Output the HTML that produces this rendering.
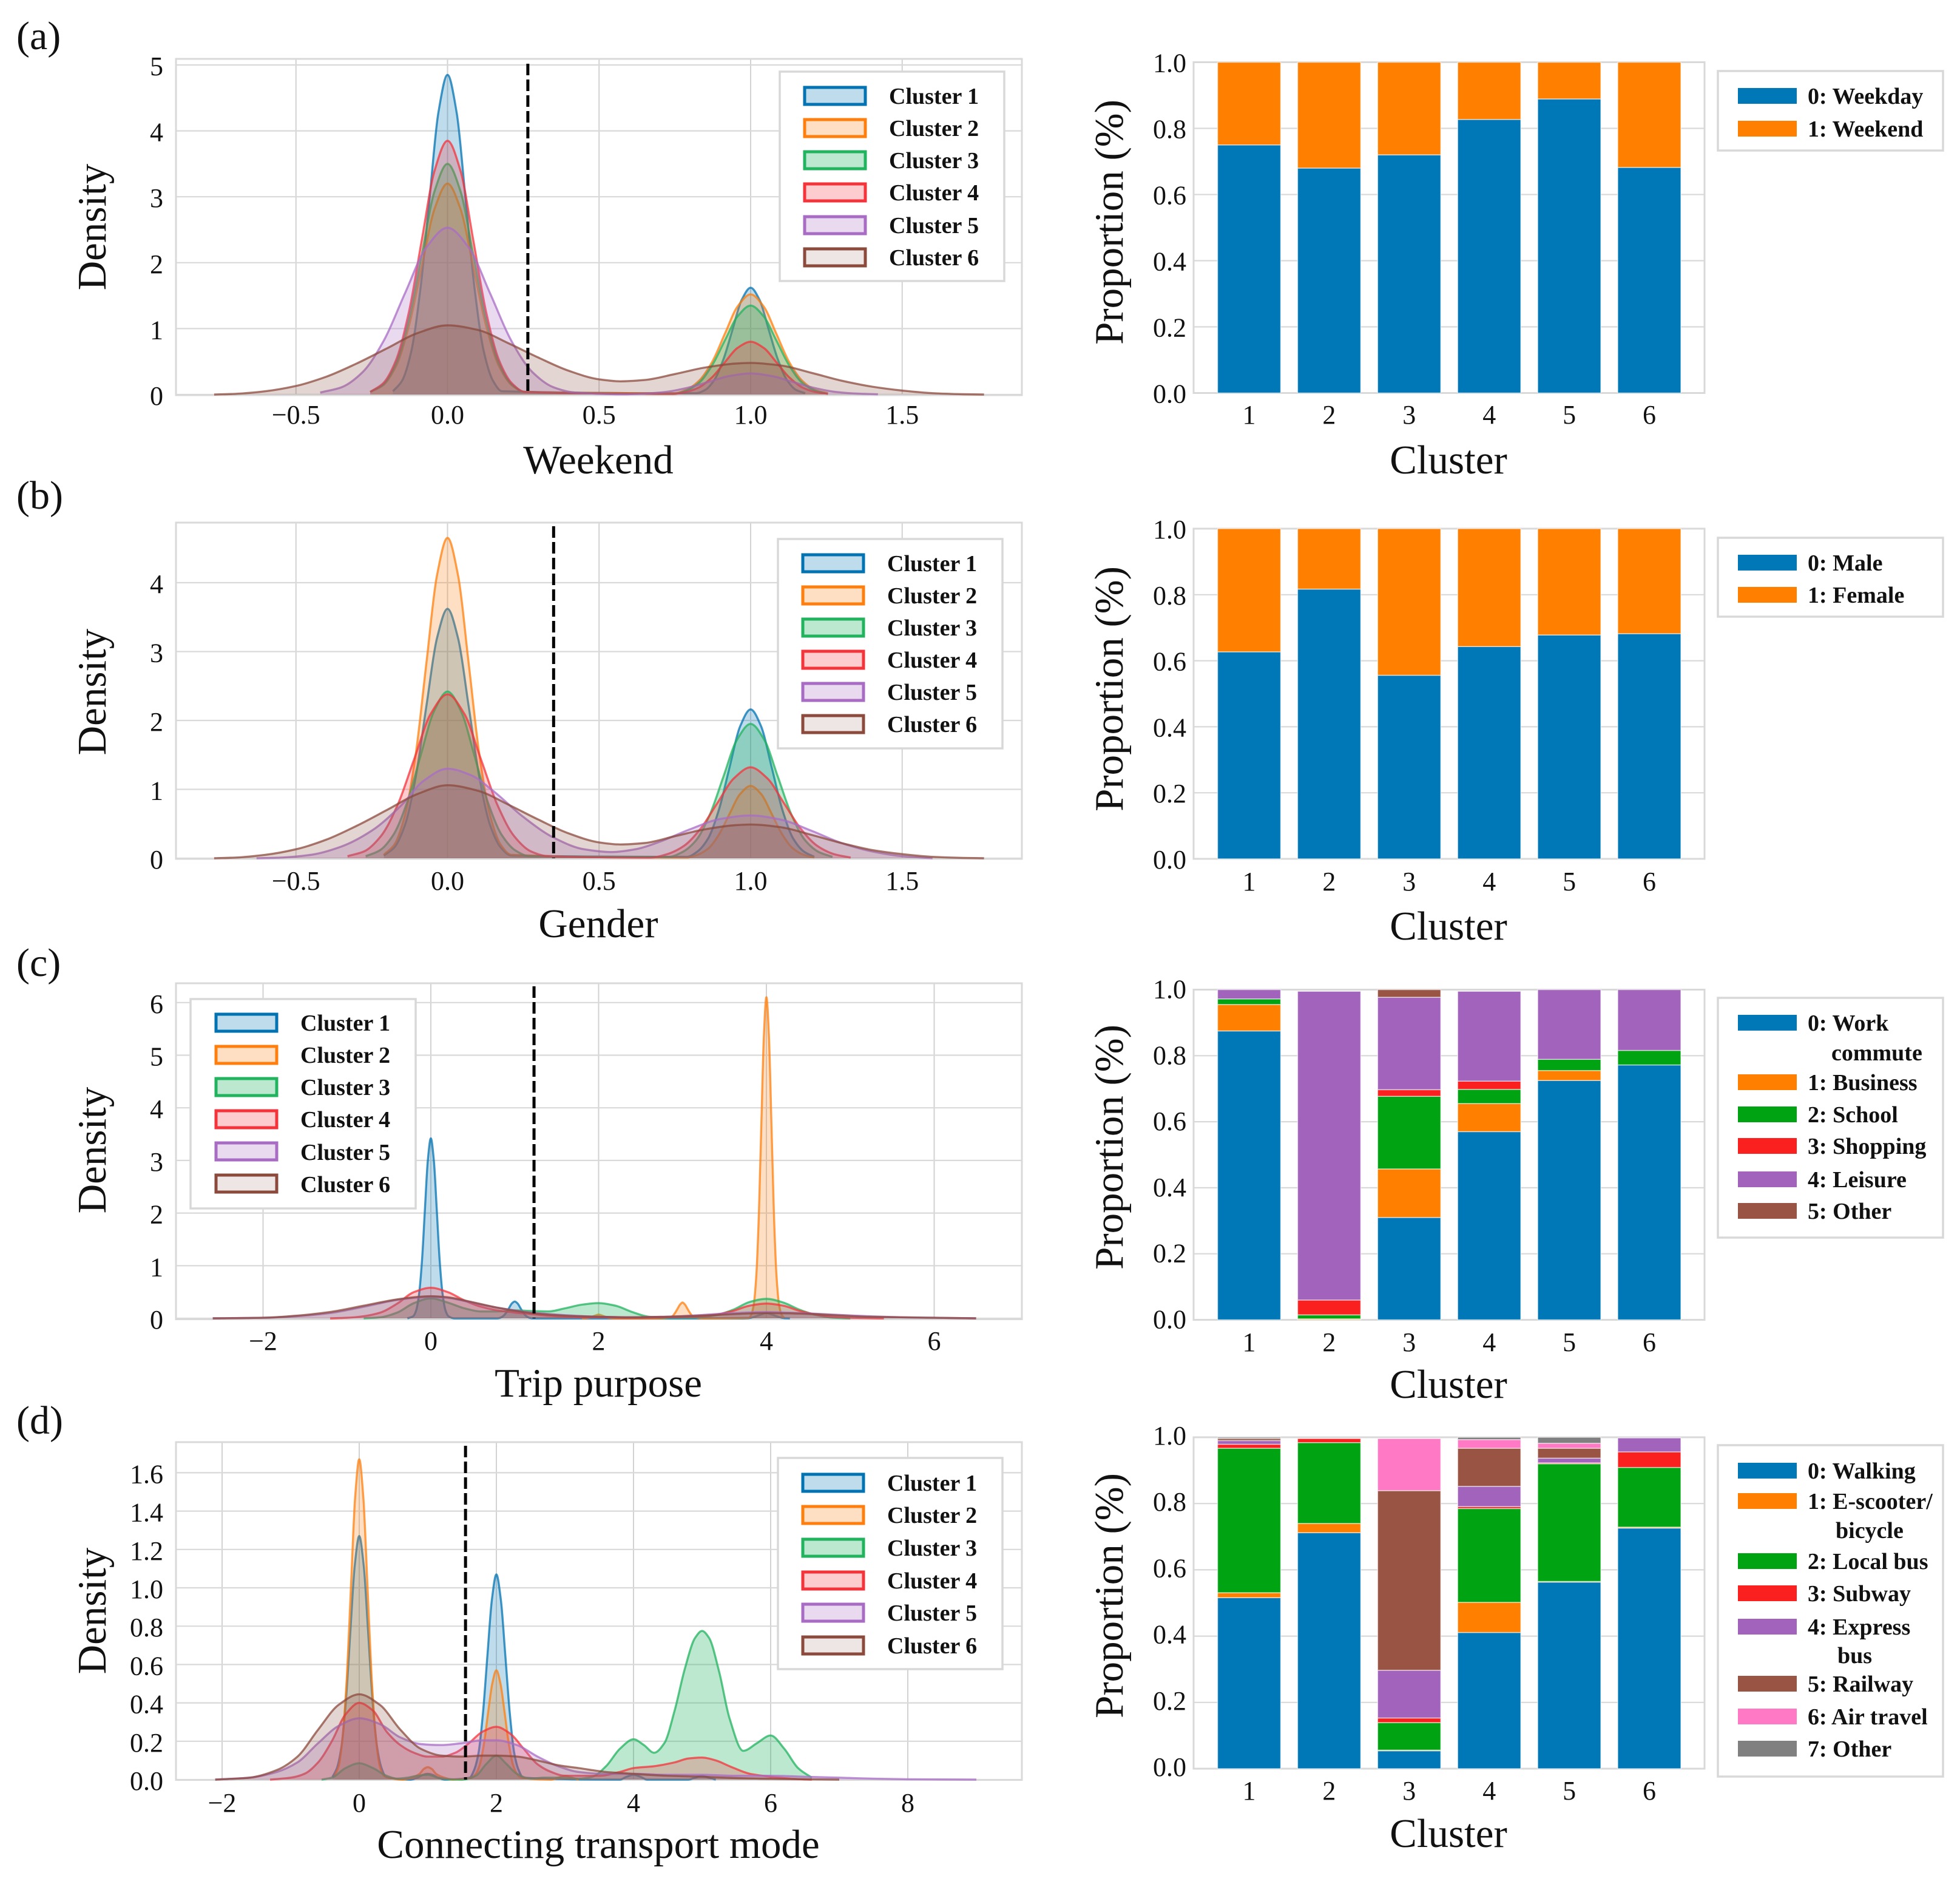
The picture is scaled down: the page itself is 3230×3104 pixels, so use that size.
<!DOCTYPE html>
<html lang="en">
<head>
<meta charset="utf-8">
<title>Cluster density and proportion charts</title>
<style>
html,body{margin:0;padding:0;background:#fff}
svg{display:block}
text{font-family:"Liberation Serif","Times New Roman",serif;fill:#111}
.panel-letter{font-size:66px}
.axis-title{font-size:67px;text-anchor:middle}
.tick{font-size:44px}
.legend-box{fill:#fff;stroke:#d8d8d8;stroke-width:3.5}
.leg{font-size:38px;font-weight:bold}
.c1{fill:#0173b2;fill-opacity:.25;stroke:#0173b2}
.c2{fill:#ff7f0e;fill-opacity:.25;stroke:#ff7f0e}
.c3{fill:#22b35f;fill-opacity:.3;stroke:#22b35f}
.c4{fill:#f5333b;fill-opacity:.25;stroke:#f5333b}
.c5{fill:#a86cc5;fill-opacity:.25;stroke:#a86cc5}
.c6{fill:#8c564b;fill-opacity:.25;stroke:#8c4a3c}
.sw{stroke-width:5}
.sw.c6{fill-opacity:.15}
</style>
</head>
<body>
<svg xmlns="http://www.w3.org/2000/svg" width="3230" height="3104" viewBox="0 0 3230 3104">
<rect width="3230" height="3104" fill="#fff"/>

<text class="panel-letter" x="27" y="81">(a)</text>
<text class="panel-letter" x="27" y="838">(b)</text>
<text class="panel-letter" x="27" y="1608">(c)</text>
<text class="panel-letter" x="27" y="2362">(d)</text>

<g id="kde-a"></g>
<g id="kde-b"></g>
<g id="kde-c"></g>
<g id="kde-d"></g>
<g id="bar-a"></g>
<g id="bar-b"></g>
<g id="bar-c"></g>
<g id="bar-d"></g>

<!-- axis titles -->
<text class="axis-title" x="986" y="780">Weekend</text>
<text class="axis-title" x="986" y="1544">Gender</text>
<text class="axis-title" x="986" y="2301">Trip purpose</text>
<text class="axis-title" x="986" y="3061">Connecting transport mode</text>
<text class="axis-title" x="2387" y="780">Cluster</text>
<text class="axis-title" x="2387" y="1548">Cluster</text>
<text class="axis-title" x="2387" y="2303">Cluster</text>
<text class="axis-title" x="2387" y="3043">Cluster</text>

<text class="axis-title" transform="translate(174 374) rotate(-90)">Density</text>
<text class="axis-title" transform="translate(174 1140) rotate(-90)">Density</text>
<text class="axis-title" transform="translate(174 1895) rotate(-90)">Density</text>
<text class="axis-title" transform="translate(174 2654) rotate(-90)">Density</text>
<text class="axis-title" transform="translate(1850 366) rotate(-90)">Proportion (%)</text>
<text class="axis-title" transform="translate(1850 1135) rotate(-90)">Proportion (%)</text>
<text class="axis-title" transform="translate(1850 1890) rotate(-90)">Proportion (%)</text>
<text class="axis-title" transform="translate(1850 2629) rotate(-90)">Proportion (%)</text>

<!-- density legends -->
<g>
<rect class="legend-box" x="1285" y="118" width="370" height="345"/>
<rect class="c1 sw" x="1326" y="144" width="100" height="28"/><text class="leg" x="1465" y="171">Cluster 1</text>
<rect class="c2 sw" x="1326" y="197" width="100" height="28"/><text class="leg" x="1465" y="224">Cluster 2</text>
<rect class="c3 sw" x="1326" y="250" width="100" height="28"/><text class="leg" x="1465" y="277">Cluster 3</text>
<rect class="c4 sw" x="1326" y="303" width="100" height="28"/><text class="leg" x="1465" y="330">Cluster 4</text>
<rect class="c5 sw" x="1326" y="357" width="100" height="28"/><text class="leg" x="1465" y="384">Cluster 5</text>
<rect class="c6 sw" x="1326" y="410" width="100" height="28"/><text class="leg" x="1465" y="437">Cluster 6</text>
</g>
<g>
<rect class="legend-box" x="1282" y="888" width="370" height="345"/>
<rect class="c1 sw" x="1323" y="914" width="100" height="28"/><text class="leg" x="1462" y="941">Cluster 1</text>
<rect class="c2 sw" x="1323" y="967" width="100" height="28"/><text class="leg" x="1462" y="994">Cluster 2</text>
<rect class="c3 sw" x="1323" y="1020" width="100" height="28"/><text class="leg" x="1462" y="1047">Cluster 3</text>
<rect class="c4 sw" x="1323" y="1073" width="100" height="28"/><text class="leg" x="1462" y="1100">Cluster 4</text>
<rect class="c5 sw" x="1323" y="1126" width="100" height="28"/><text class="leg" x="1462" y="1153">Cluster 5</text>
<rect class="c6 sw" x="1323" y="1179" width="100" height="28"/><text class="leg" x="1462" y="1206">Cluster 6</text>
</g>
<g>
<rect class="legend-box" x="314" y="1646" width="371" height="345"/>
<rect class="c1 sw" x="356" y="1671" width="100" height="28"/><text class="leg" x="495" y="1698">Cluster 1</text>
<rect class="c2 sw" x="356" y="1724" width="100" height="28"/><text class="leg" x="495" y="1751">Cluster 2</text>
<rect class="c3 sw" x="356" y="1777" width="100" height="28"/><text class="leg" x="495" y="1804">Cluster 3</text>
<rect class="c4 sw" x="356" y="1830" width="100" height="28"/><text class="leg" x="495" y="1857">Cluster 4</text>
<rect class="c5 sw" x="356" y="1883" width="100" height="28"/><text class="leg" x="495" y="1911">Cluster 5</text>
<rect class="c6 sw" x="356" y="1936" width="100" height="28"/><text class="leg" x="495" y="1964">Cluster 6</text>
</g>
<g>
<rect class="legend-box" x="1282" y="2402" width="370" height="348"/>
<rect class="c1 sw" x="1323" y="2429" width="100" height="28"/><text class="leg" x="1462" y="2456">Cluster 1</text>
<rect class="c2 sw" x="1323" y="2482" width="100" height="28"/><text class="leg" x="1462" y="2509">Cluster 2</text>
<rect class="c3 sw" x="1323" y="2536" width="100" height="28"/><text class="leg" x="1462" y="2563">Cluster 3</text>
<rect class="c4 sw" x="1323" y="2590" width="100" height="28"/><text class="leg" x="1462" y="2617">Cluster 4</text>
<rect class="c5 sw" x="1323" y="2643" width="100" height="28"/><text class="leg" x="1462" y="2670">Cluster 5</text>
<rect class="c6 sw" x="1323" y="2697" width="100" height="28"/><text class="leg" x="1462" y="2724">Cluster 6</text>
</g>

<!-- proportion legends -->
<g>
<rect class="legend-box" x="2831" y="117" width="371" height="131"/>
<rect x="2864" y="145" width="97" height="26" fill="#0077b6"/><text class="leg" x="2979" y="171">0: Weekday</text>
<rect x="2864" y="199" width="97" height="26" fill="#ff7f00"/><text class="leg" x="2979" y="225">1: Weekend</text>
</g>
<g>
<rect class="legend-box" x="2831" y="886" width="371" height="130"/>
<rect x="2864" y="914" width="97" height="26" fill="#0077b6"/><text class="leg" x="2979" y="940">0: Male</text>
<rect x="2864" y="967" width="97" height="26" fill="#ff7f00"/><text class="leg" x="2979" y="993">1: Female</text>
</g>
<g>
<rect class="legend-box" x="2831" y="1644" width="371" height="395"/>
<rect x="2864" y="1672" width="97" height="26" fill="#0077b6"/><text class="leg" x="2979" y="1698">0: Work</text><text class="leg" x="3018" y="1747">commute</text>
<rect x="2864" y="1770" width="97" height="26" fill="#ff7f00"/><text class="leg" x="2979" y="1796">1: Business</text>
<rect x="2864" y="1823" width="97" height="26" fill="#00a312"/><text class="leg" x="2979" y="1849">2: School</text>
<rect x="2864" y="1875" width="97" height="26" fill="#fb2020"/><text class="leg" x="2979" y="1901">3: Shopping</text>
<rect x="2864" y="1930" width="97" height="26" fill="#a263bd"/><text class="leg" x="2979" y="1956">4: Leisure</text>
<rect x="2864" y="1982" width="97" height="26" fill="#9a5444"/><text class="leg" x="2979" y="2008">5: Other</text>
</g>
<g>
<rect class="legend-box" x="2831" y="2381" width="371" height="546"/>
<rect x="2864" y="2410" width="97" height="26" fill="#0077b6"/><text class="leg" x="2979" y="2436">0: Walking</text>
<rect x="2864" y="2460" width="97" height="26" fill="#ff7f00"/><text class="leg" x="2979" y="2486">1: E-scooter/</text><text class="leg" x="3025" y="2534">bicycle</text>
<rect x="2864" y="2559" width="97" height="26" fill="#00a312"/><text class="leg" x="2979" y="2585">2: Local bus</text>
<rect x="2864" y="2612" width="97" height="26" fill="#fb2020"/><text class="leg" x="2979" y="2638">3: Subway</text>
<rect x="2864" y="2667" width="97" height="26" fill="#a263bd"/><text class="leg" x="2979" y="2693">4: Express</text><text class="leg" x="3028" y="2740">bus</text>
<rect x="2864" y="2761" width="97" height="26" fill="#9a5444"/><text class="leg" x="2979" y="2787">5: Railway</text>
<rect x="2864" y="2815" width="97" height="26" fill="#ff79c4"/><text class="leg" x="2979" y="2841">6: Air travel</text>
<rect x="2864" y="2868" width="97" height="26" fill="#808080"/><text class="leg" x="2979" y="2894">7: Other</text>
</g>
</svg>

<script>
/* ---------- tick labels ---------- */
const unitTicks = [-0.5, 0, 0.5, 1, 1.5];
const unitTickLabels = ['\u22120.5', '0.0', '0.5', '1.0', '1.5'];
const weekendYTicks = [0, 1, 2, 3, 4, 5];
const genderYTicks = [0, 1, 2, 3, 4];
const purposeYTicks = [0, 1, 2, 3, 4, 5, 6];
const purposeXTicks = [-2, 0, 2, 4, 6];
const purposeXLabels = ['\u22122', '0', '2', '4', '6'];
const modeYTicks = [0, 0.2, 0.4, 0.6, 0.8, 1, 1.2, 1.4, 1.6];
const modeYLabels = ['0.0', '0.2', '0.4', '0.6', '0.8', '1.0', '1.2', '1.4', '1.6'];
const modeXTicks = [-2, 0, 2, 4, 6, 8];
const modeXLabels = ['\u22122', '0', '2', '4', '6', '8'];
const shareTicks = [0, 0.2, 0.4, 0.6, 0.8, 1];
const shareLabels = ['0.0', '0.2', '0.4', '0.6', '0.8', '1.0'];
const clusterLabels = ['1', '2', '3', '4', '5', '6'];

/* ---------- thresholds ---------- */
const weekendThreshold = 0.265;
const genderThreshold = 0.35;
const purposeThreshold = 1.23;
const modeThreshold = 1.55;

/* ---------- (a) weekend density ---------- */
const aX1 = [-.18,-.15,-.12,-.09,-.06,-.03,0,.03,.06,.09,.12,.15,.18,.82,.85,.88,.91,.94,.97,1,1.03,1.06,1.09,1.12,1.15,1.18];
const aY1 = [.05,.21,.65,1.58,2.94,4.28,4.85,4.28,2.94,1.58,.65,.21,.05,.02,.07,.22,.53,.98,1.43,1.62,1.43,.98,.53,.22,.07,.02];
const aX2 = [-.255,-.2125,-.17,-.1275,-.085,-.0425,0,.0425,.085,.1275,.17,.2125,.255,.745,.7875,.83,.8725,.915,.9575,1,1.0425,1.085,1.1275,1.17,1.2125,1.255];
const aY2 = [.04,.14,.43,1.04,1.94,2.82,3.2,2.82,1.94,1.04,.43,.14,.04,.02,.07,.21,.49,.92,1.34,1.52,1.34,.92,.49,.21,.07,.02];
const aY3 = [.04,.15,.47,1.14,2.12,3.09,3.5,3.09,2.12,1.14,.47,.15,.04,.01,.06,.18,.44,.82,1.19,1.35,1.19,.82,.44,.18,.06,.01];
const aY4 = [.04,.17,.52,1.25,2.34,3.4,3.85,3.4,2.34,1.25,.52,.17,.04,.01,.04,.11,.26,.49,.71,.8,.71,.49,.26,.11,.04,.01];
const aX5 = [-.42,-.35,-.28,-.21,-.14,-.07,0,.07,.14,.21,.28,.35,.42,.58,.65,.72,.79,.86,.93,1,1.07,1.14,1.21,1.28,1.35,1.42];
const aY5 = [.03,.11,.34,.82,1.54,2.23,2.53,2.23,1.54,.82,.34,.11,.03,.004,.014,.04,.1,.19,.28,.32,.28,.19,.1,.04,.014,.004];
const aX6 = [-.77,-.7,-.6,-.5,-.4,-.3,-.2,-.1,0,.1,.2,.3,.4,.5,.57,.65,.75,.85,.95,1,1.1,1.2,1.3,1.4,1.5,1.6,1.7,1.77];
const aY6 = [0,.01,.05,.13,.27,.47,.7,.93,1.05,.98,.78,.56,.36,.23,.2,.22,.31,.41,.47,.48,.44,.33,.21,.12,.06,.02,.005,0];

/* ---------- (b) gender density ---------- */
const bX1 = [-.21,-.175,-.14,-.105,-.07,-.035,0,.035,.07,.105,.14,.175,.21,.79,.825,.86,.895,.93,.965,1,1.035,1.07,1.105,1.14,1.175,1.21];
const bY1 = [.04,.16,.49,1.18,2.2,3.19,3.62,3.19,2.2,1.18,.49,.16,.04,.02,.1,.29,.7,1.31,1.91,2.16,1.91,1.31,.7,.29,.1,.02];
const bY2 = [.05,.2,.63,1.51,2.82,4.1,4.65,4.1,2.82,1.51,.63,.2,.05,.01,.05,.14,.34,.64,.93,1.05,.93,.64,.34,.14,.05,.01];
const bX3 = [-.27,-.225,-.18,-.135,-.09,-.045,0,.045,.09,.135,.18,.225,.27,.73,.775,.82,.865,.91,.955,1,1.045,1.09,1.135,1.18,1.225,1.27];
const bY3 = [.03,.11,.33,.79,1.47,2.13,2.42,2.13,1.47,.79,.33,.11,.03,.02,.09,.26,.63,1.18,1.72,1.95,1.72,1.18,.63,.26,.09,.02];
const bX4 = [-.33,-.275,-.22,-.165,-.11,-.055,0,.055,.11,.165,.22,.275,.33,.67,.725,.78,.835,.89,.945,1,1.055,1.11,1.165,1.22,1.275,1.33];
const bY4 = [.03,.1,.32,.77,1.44,2.1,2.38,2.1,1.44,.77,.32,.1,.03,.01,.06,.18,.43,.8,1.16,1.32,1.16,.8,.43,.18,.06,.01];
const bX5 = [-.63,-.55,-.45,-.35,-.25,-.15,-.08,0,.08,.15,.25,.35,.45,.54,.62,.7,.8,.9,1,1.1,1.2,1.3,1.4,1.5,1.6];
const bY5 = [0,.01,.05,.17,.4,.78,1.12,1.3,1.2,.98,.6,.3,.13,.09,.13,.24,.42,.57,.62,.56,.4,.22,.1,.03,0];
const bX6 = [-.77,-.7,-.6,-.5,-.4,-.3,-.2,-.1,0,.1,.2,.3,.4,.5,.57,.65,.75,.85,.95,1,1.1,1.2,1.3,1.4,1.5,1.6,1.7,1.77];
const bY6 = [0,.01,.05,.13,.27,.47,.7,.93,1.06,.98,.78,.56,.36,.23,.2,.22,.32,.42,.48,.49,.45,.34,.22,.12,.06,.02,.005,0];

/* ---------- (c) trip purpose density ---------- */
const cX1 = [-.28,-.21,-.175,-.14,-.105,-.07,-.035,0,.035,.07,.105,.14,.175,.21,.28,.72,.79,.825,.86,.895,.93,.965,1,1.035,1.07,1.105,1.14,1.175,1.21,1.28,3.72,3.79,3.86,3.93,4,4.07,4.14,4.21,4.28];
const cY1 = [0,.04,.15,.46,1.11,2.08,3.02,3.42,3.02,2.08,1.11,.46,.15,.04,0,0,0,.01,.04,.1,.19,.28,.32,.28,.19,.1,.04,.01,0,0,0,.004,.03,.07,.1,.07,.03,.004,0];
const cX2 = [1.8,1.88,1.94,2,2.06,2.12,2.2,2.75,2.82,2.88,2.91,2.94,2.97,3,3.03,3.06,3.09,3.12,3.18,3.25,3.79,3.82,3.85,3.88,3.91,3.94,3.97,4,4.03,4.06,4.09,4.12,4.15,4.18,4.21];
const cY2 = [0,.01,.04,.07,.04,.01,0,0,.01,.04,.1,.18,.26,.3,.26,.18,.1,.04,.01,0,.01,.07,.27,.82,1.98,3.7,5.38,6.1,5.38,3.7,1.98,.82,.27,.07,.01];
const cX3 = [-.8,-.6,-.4,-.2,0,.2,.4,.6,.8,1,1.2,1.4,1.6,1.8,2,2.2,2.4,2.6,2.8,3,3.2,3.4,3.6,3.8,4,4.2,4.4,4.6,4.8,5];
const cY3 = [0,.02,.11,.29,.38,.3,.19,.13,.13,.15,.14,.13,.19,.26,.29,.24,.12,.03,.01,.01,.02,.06,.16,.31,.37,.3,.16,.06,.01,0];
const cX4 = [-1.2,-1,-.8,-.6,-.4,-.2,0,.2,.4,.6,.8,1,1.2,1.4,1.6,1.8,2,2.4,2.8,3.2,3.4,3.6,3.8,4,4.2,4.4,4.6,4.8,5,5.4];
const cY4 = [0,.01,.04,.11,.28,.5,.58,.5,.34,.22,.15,.11,.08,.05,.03,.02,.02,.01,.02,.04,.07,.14,.24,.28,.24,.14,.07,.03,.01,0];
const cX5 = [-2.6,-2,-1.6,-1.2,-.8,-.4,-.2,0,.2,.4,.8,1.2,1.6,2,2.4,2.8,3.2,3.6,4,4.4,4.8,5.2,5.6,6,6.5];
const cY5 = [0,.01,.04,.1,.22,.35,.39,.41,.39,.33,.2,.11,.06,.03,.02,.03,.06,.1,.12,.1,.07,.04,.02,.01,0];
const cY6 = [0,.01,.05,.12,.24,.36,.4,.42,.4,.34,.2,.1,.05,.03,.02,.03,.05,.08,.1,.09,.06,.03,.02,.01,0];

/* ---------- (d) connecting transport mode density ---------- */
const dX1 = [-.39,-.325,-.26,-.195,-.13,-.065,0,.065,.13,.195,.26,.325,.39,.75,.85,.93,1,1.07,1.15,1.25,1.61,1.675,1.74,1.805,1.87,1.935,2,2.065,2.13,2.195,2.26,2.325,2.39,3.8,3.9,4,4.1,4.2,4.8,4.9,5,5.1,5.2];
const dY1 = [.014,.06,.17,.41,.77,1.12,1.27,1.12,.77,.41,.17,.06,.014,0,.01,.025,.03,.025,.01,0,.01,.05,.14,.35,.65,.94,1.07,.94,.65,.35,.14,.05,.01,0,.015,.025,.015,0,0,.01,.02,.01,0];
const dX2 = [-.36,-.3,-.24,-.18,-.12,-.06,0,.06,.12,.18,.24,.3,.36,.64,.76,.88,.94,1,1.06,1.12,1.24,1.36,1.64,1.7,1.76,1.82,1.88,1.94,2,2.06,2.12,2.18,2.24,2.3,2.36,2.8,2.9,3,3.1,3.2];
const dY2 = [.02,.07,.23,.54,1.01,1.47,1.67,1.47,1.01,.54,.23,.07,.02,0,.01,.03,.055,.065,.055,.03,.01,0,.01,.03,.08,.19,.35,.5,.57,.5,.35,.19,.08,.03,.01,0,.01,.02,.01,0];
const dX3 = [-.55,-.4,-.2,0,.2,.4,.55,.7,.85,1,1.15,1.3,1.5,1.7,1.85,2,2.15,2.3,2.5,2.7,3,3.2,3.4,3.6,3.8,4,4.15,4.3,4.45,4.6,4.75,4.9,5,5.1,5.25,5.4,5.6,5.8,6,6.2,6.4,6.6];
const dY3 = [0,.01,.06,.085,.06,.02,.005,.01,.02,.025,.01,.003,0,.02,.08,.125,.08,.03,.005,.01,.01,.005,.015,.07,.16,.21,.18,.14,.19,.36,.58,.74,.775,.74,.56,.32,.15,.19,.23,.16,.06,.01];
const dX4 = [-1.3,-1,-.8,-.6,-.4,-.2,0,.2,.4,.6,.8,1,1.2,1.4,1.6,1.8,2,2.2,2.4,2.6,2.8,3,3.2,3.5,3.8,4,4.3,4.6,4.8,5,5.2,5.4,5.7,6,6.3,6.6];
const dY4 = [0,.01,.03,.09,.2,.34,.4,.36,.25,.18,.14,.12,.12,.14,.19,.25,.275,.24,.16,.08,.04,.02,.02,.02,.04,.06,.07,.09,.11,.115,.1,.07,.03,.015,.005,0];
const dX5 = [-2.1,-1.6,-1.2,-.9,-.6,-.3,0,.3,.6,.9,1.2,1.5,1.8,2,2.3,2.6,2.9,3.2,3.6,4,4.5,5,5.5,6,6.5,7,7.5,8,9];
const dY5 = [0,.01,.04,.09,.19,.28,.32,.29,.22,.185,.18,.19,.205,.205,.18,.12,.07,.04,.03,.03,.025,.025,.02,.02,.015,.01,.005,.002,0];
const dX6 = [-2.1,-1.6,-1.2,-.9,-.6,-.3,0,.3,.6,.9,1.2,1.5,1.8,2,2.3,2.6,2.9,3.2,3.6,4,4.5,5,5.5,6,6.5,7];
const dY6 = [0,.01,.05,.12,.26,.39,.445,.39,.26,.16,.125,.12,.125,.125,.12,.1,.075,.06,.04,.03,.02,.015,.008,.004,.002,0];

/* ---------- stacked share values, cluster 1..6 ---------- */
const weekday = [.75,.68,.72,.827,.889,.682];
const weekend = [.25,.32,.28,.173,.111,.318];
const male = [.627,.817,.556,.643,.678,.682];
const female = [.373,.183,.444,.357,.322,.318];
const workCommute = [.875,0,.31,.57,.725,.772];
const business = [.08,.003,.147,.085,.03,0];
const school = [.017,.012,.22,.043,.034,.044];
const shopping = [0,.045,.02,.025,0,0];
const leisure = [.028,.935,.28,.272,.211,.184];
const otherPurpose = [0,0,.023,0,0,0];
const walking = [.516,.712,.054,.411,.563,.726];
const scooter = [.015,.028,.002,.091,.002,.003];
const localBus = [.436,.244,.083,.283,.355,.18];
const subway = [.012,.012,.014,.006,.003,.047];
const expressBus = [.011,0,.144,.061,.014,.042];
const railway = [.006,0,.542,.115,.03,0];
const airTravel = [0,0,.157,.026,.015,0];
const otherMode = [.004,0,0,.007,.018,0];

const SVG_NS = 'http://www.w3.org/2000/svg';
const GRID = '#d9d9d9';
const KDE_CLASSES = ['c1','c2','c3','c4','c5','c6'];

function make(parent, tag) {
  const el = document.createElementNS(SVG_NS, tag);
  parent.appendChild(el);
  return el;
}

function linear(v0, px0, v1, px1) {
  return function (v) { return px0 + (v - v0) * (px1 - px0) / (v1 - v0); };
}

/* monotone cubic path through samples, so curves never overshoot the baseline */
function smoothPath(px, py) {
  const n = px.length, d = [], m = [];
  for (let i = 0; i < n - 1; i++) d.push((py[i + 1] - py[i]) / (px[i + 1] - px[i]));
  m[0] = d[0]; m[n - 1] = d[n - 2];
  for (let i = 1; i < n - 1; i++) {
    if (d[i - 1] * d[i] <= 0) { m[i] = 0; continue; }
    const h0 = px[i] - px[i - 1], h1 = px[i + 1] - px[i];
    m[i] = (2 * h1 + h0 + (h1 + 2 * h0)) / ((2 * h1 + h0) / d[i - 1] + (h1 + 2 * h0) / d[i]);
  }
  let s = 'M' + px[0].toFixed(1) + ' ' + py[0].toFixed(1);
  for (let i = 0; i < n - 1; i++) {
    const h = (px[i + 1] - px[i]) / 3;
    s += 'C' + (px[i] + h).toFixed(1) + ' ' + (py[i] + m[i] * h).toFixed(1) + ' ' +
         (px[i + 1] - h).toFixed(1) + ' ' + (py[i + 1] - m[i + 1] * h).toFixed(1) + ' ' +
         px[i + 1].toFixed(1) + ' ' + py[i + 1].toFixed(1);
  }
  return s;
}

function drawFrame(g, box) {
  const el = make(g, 'rect');
  el.setAttribute('x', box.l);
  el.setAttribute('y', box.t);
  el.setAttribute('width', box.r - box.l);
  el.setAttribute('height', box.b - box.t);
  el.setAttribute('fill', 'none');
  el.setAttribute('stroke', GRID);
  el.setAttribute('stroke-width', '3');
  
  
}

function drawYAxis(g, box, sy, ticks, labels, labelX, dy) {
  ticks.forEach(function (t, i) {
    const line = make(g, 'line');
    line.setAttribute('x1', box.l);
    line.setAttribute('x2', box.r);
    line.setAttribute('y1', sy(t));
    line.setAttribute('y2', sy(t));
    line.setAttribute('stroke', GRID);
    line.setAttribute('stroke-width', '2.2');
    
    
    const tx = make(g, 'text');
    tx.setAttribute('class', 'tick');
    tx.setAttribute('x', labelX);
    tx.setAttribute('y', sy(t) + dy);
    tx.setAttribute('text-anchor', 'end');
    
    
    tx.textContent = labels[i];
  });
}

function drawXLabels(g, positions, labels, y) {
  labels.forEach(function (lab, i) {
    const tx = make(g, 'text');
    tx.setAttribute('class', 'tick');
    tx.setAttribute('x', positions[i]);
    tx.setAttribute('y', y);
    tx.setAttribute('text-anchor', 'middle');
    
    
    tx.textContent = lab;
  });
}

function drawKde(id, box, xMap, yMap, xTicks, xLabels, yTicks, yLabels, seriesX, seriesY, threshold, thresholdTop, labelY) {
  const g = document.getElementById(id);
  const sx = linear(0, xMap[0], 1, xMap[1]);
  const sy = linear(0, yMap[0], 1, yMap[1]);
  xTicks.forEach(function (t) {
    const line = make(g, 'line');
    line.setAttribute('x1', sx(t));
    line.setAttribute('x2', sx(t));
    line.setAttribute('y1', box.t);
    line.setAttribute('y2', box.b);
    line.setAttribute('stroke', '#d2d2d2');
    line.setAttribute('stroke-width', '2');
    
    
  });
  drawYAxis(g, box, sy, yTicks, yLabels, 269, 17);
  drawFrame(g, box);
  drawXLabels(g, xTicks.map(sx), xLabels, labelY);
  seriesX.forEach(function (xs, k) {
    const ys = seriesY[k];
    const px = xs.map(sx), py = ys.map(sy);
    const curve = smoothPath(px, py);
    const area = make(g, 'path');
    area.setAttribute('d', curve + 'L' + px[px.length - 1].toFixed(1) + ' ' + sy(0).toFixed(1) + 'L' + px[0].toFixed(1) + ' ' + sy(0).toFixed(1) + 'Z');
    area.setAttribute('class', KDE_CLASSES[k]);
    area.setAttribute('style', 'stroke:none');
    
    
    const line = make(g, 'path');
    line.setAttribute('d', curve);
    line.setAttribute('class', KDE_CLASSES[k]);
    line.setAttribute('style', 'fill:none;stroke-width:3.4;stroke-opacity:.75');
    
    
  });
  const dash = make(g, 'line');
  dash.setAttribute('x1', sx(threshold));
  dash.setAttribute('x2', sx(threshold));
  dash.setAttribute('y1', thresholdTop);
  dash.setAttribute('y2', sy(0));
  dash.setAttribute('stroke', '#000');
  dash.setAttribute('stroke-width', '5');
  dash.setAttribute('stroke-dasharray', '19 7');
  
  
}

function drawBars(id, zeroY, oneY, stacks, colors, labelY, tickDy) {
  const g = document.getElementById(id);
  const box = { l: 1967, r: 2809, t: oneY, b: zeroY };
  const sy = linear(0, zeroY, 1, oneY);
  const sx = linear(1, 2058.5, 6, 2718);
  const barW = 104;
  drawYAxis(g, box, sy, shareTicks, shareLabels, 1955, tickDy);
  drawFrame(g, box);
  drawXLabels(g, clusterLabels.map(function (c) { return sx(Number(c)); }), clusterLabels, labelY);
  clusterLabels.forEach(function (c, i) {
    let base = 0;
    stacks.forEach(function (arr, s) {
      const v = arr[i];
      if (v > 0) {
        const bar = make(g, 'rect');
        bar.setAttribute('x', sx(Number(c)) - barW / 2);
        bar.setAttribute('y', sy(base + v));
        bar.setAttribute('width', barW);
        bar.setAttribute('height', sy(base) - sy(base + v));
        bar.setAttribute('fill', colors[s]);
        bar.setAttribute('stroke', '#fff');
        bar.setAttribute('stroke-opacity', '.6');
        bar.setAttribute('stroke-width', '1.5');
        
        
      }
      base += v;
    });
  });
}

const numLabels = function (arr) { return arr.map(String); };
const BAR_COLORS = ['#0077b6','#ff7f00','#00a312','#fb2020','#a263bd','#9a5444','#ff79c4','#808080'];

drawKde('kde-a', {l:290,r:1684,t:97,b:651}, [737.5,1237], [650,541.4], unitTicks, unitTickLabels, weekendYTicks, numLabels(weekendYTicks),
  [aX1,aX2,aX2,aX2,aX5,aX6], [aY1,aY2,aY3,aY4,aY5,aY6], weekendThreshold, 105, 698);
drawKde('kde-b', {l:290,r:1684,t:861,b:1415}, [737.5,1237], [1414,1300.5], unitTicks, unitTickLabels, genderYTicks, numLabels(genderYTicks),
  [bX1,bX1,bX3,bX4,bX5,bX6], [bY1,bY2,bY3,bY4,bY5,bY6], genderThreshold, 867, 1466);
drawKde('kde-c', {l:290,r:1684,t:1620,b:2173.5}, [710,848.25], [2172,2085.3], purposeXTicks, purposeXLabels, purposeYTicks, numLabels(purposeYTicks),
  [cX1,cX2,cX3,cX4,cX5,cX5], [cY1,cY2,cY3,cY4,cY5,cY6], purposeThreshold, 1625, 2224);
drawKde('kde-d', {l:290,r:1684,t:2376,b:2932.5}, [592,705], [2932,2616], modeXTicks, modeXLabels, modeYTicks, modeYLabels,
  [dX1,dX2,dX3,dX4,dX5,dX6], [dY1,dY2,dY3,dY4,dY5,dY6], modeThreshold, 2382, 2985);

drawBars('bar-a', 647.5, 102.5, [weekday, weekend], BAR_COLORS, 698, 16);
drawBars('bar-b', 1415, 871, [male, female], BAR_COLORS, 1467, 16);
drawBars('bar-c', 2174.5, 1630.5, [workCommute, business, school, shopping, leisure, otherPurpose], BAR_COLORS, 2226, 14);
drawBars('bar-d', 2914, 2368, [walking, scooter, localBus, subway, expressBus, railway, airTravel, otherMode], BAR_COLORS, 2965, 12);
</script>
</body>
</html>
